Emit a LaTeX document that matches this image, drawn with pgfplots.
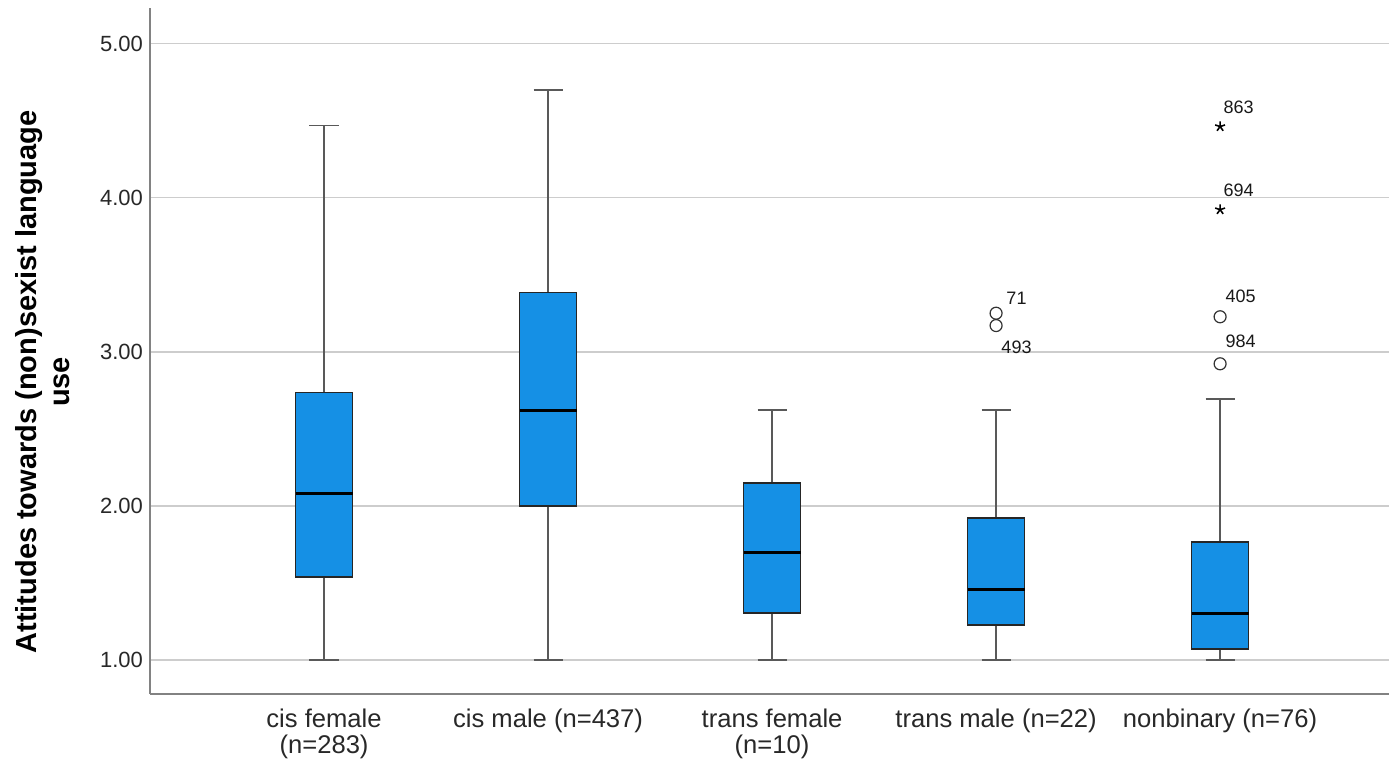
\documentclass[border=0pt]{standalone}
\usepackage{pgfplots}
\pgfplotsset{compat=1.18}
\usepgfplotslibrary{statistics}
\usepackage{fontspec}
\setmainfont{Liberation Sans}
\definecolor{boxblue}{RGB}{21,144,229}
\definecolor{gridgray}{RGB}{205,205,205}
\definecolor{axisgray}{RGB}{130,130,130}
\definecolor{txt}{RGB}{40,40,40}
\pgfplotsset{
  spssbox/.style={
    draw=black!65,
    boxplot/draw direction=y,
    boxplot/box extend=0.254,
    boxplot/whisker extend=0.13,
    boxplot/every box/.style={draw=black!85, fill=boxblue, line width=0.7pt},
    boxplot/every whisker/.style={draw=black!65, line width=0.9pt},
    boxplot/every median/.style={draw=black, line width=1.5pt},
  }
}
\begin{document}
\begin{tikzpicture}
\begin{axis}[
  scale only axis, width=619.5pt, height=343pt,
  xmin=-0.777, xmax=4.754, ymin=0.78, ymax=5.23,
  axis lines*=left,
  axis line style={axisgray, line width=0.75pt},
  major tick length=0pt,
  ytick={1,2,3,4,5},
  ymajorgrids, grid style={gridgray, line width=0.8pt},
  /pgf/number format/assume math mode=true,
  yticklabel style={/pgf/number format/fixed, /pgf/number format/fixed zerofill, /pgf/number format/precision=2,
    font=\fontsize{11}{13}\selectfont, color=txt},
  xtick={0,1,2,3,4},
  xticklabels={{cis female\\(n=283)},{cis male (n=437)},{trans female\\(n=10)},{trans male (n=22)},{nonbinary (n=76)}},
  xticklabel style={align=center, font=\fontsize{12.8}{13}\selectfont, color=txt, yshift=-4pt},
  ylabel={Attitudes towards (non)sexist language\\use},
  ylabel style={align=center, font=\bfseries\fontsize{14.5}{16.5}\selectfont, at={(axis description cs:-0.0864,0.455)}, anchor=center},
  clip=false,
]
\addplot[spssbox, boxplot prepared={draw position=0, lower whisker=1, lower quartile=1.539, median=2.078, upper quartile=2.734, upper whisker=4.468}] coordinates {};
\addplot[spssbox, boxplot prepared={draw position=1, lower whisker=1, lower quartile=2.0, median=2.617, upper quartile=3.385, upper whisker=4.697}] coordinates {};
\addplot[spssbox, boxplot prepared={draw position=2, lower whisker=1, lower quartile=1.305, median=1.695, upper quartile=2.149, upper whisker=2.623}] coordinates {};
\addplot[spssbox, boxplot prepared={draw position=3, lower whisker=1, lower quartile=1.227, median=1.461, upper quartile=1.922, upper whisker=2.623}] coordinates {};
\addplot[spssbox, boxplot prepared={draw position=4, lower whisker=1, lower quartile=1.071, median=1.305, upper quartile=1.766, upper whisker=2.695}] coordinates {};
\addplot[only marks, mark=o, mark size=3pt, draw=black!80, line width=0.6pt] coordinates {(3,3.25) (3,3.17) (4,3.227) (4,2.922)};
\addplot[only marks, mark=star, mark size=2.6pt, draw=black, line width=0.8pt] coordinates {(4,4.461) (4,3.922)};
\begin{scope}[every node/.style={anchor=base west, inner sep=0pt, font=\fontsize{9}{9}\selectfont, text=black!90}]
\node[xshift=1.5pt, yshift=6.5pt] at (axis cs:4,4.461) {863};
\node[xshift=1.5pt, yshift=6.5pt] at (axis cs:4,3.922) {694};
\node[xshift=2.5pt, yshift=7pt] at (axis cs:4,3.227) {405};
\node[xshift=2.5pt, yshift=8pt] at (axis cs:4,2.922) {984};
\node[xshift=5pt, yshift=4.5pt] at (axis cs:3,3.25) {71};
\node[xshift=2.5pt, yshift=-14pt] at (axis cs:3,3.17) {493};
\end{scope}
\end{axis}
\pgfresetboundingbox
\path[use as bounding box] ([xshift=-75pt,yshift=-35pt]current axis.south west) rectangle ([yshift=4pt]current axis.north east);
\end{tikzpicture}
\end{document}
